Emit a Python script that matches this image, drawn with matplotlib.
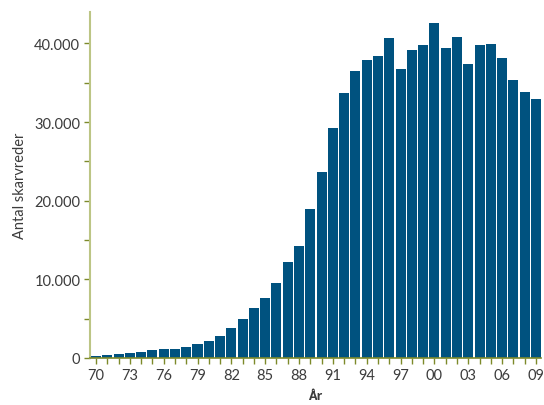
import matplotlib
matplotlib.use("Agg")
import matplotlib.pyplot as plt
from matplotlib.ticker import FuncFormatter, MultipleLocator

years = list(range(1970, 2010))
nests = [250, 380, 510, 640, 760, 1020, 1140, 1140, 1400, 1780,
         2160, 2800, 3810, 4960, 6360, 7630, 9530, 12200, 14240, 18940,
         23640, 29230, 33680, 36480, 37880, 38380, 40670, 36730, 39150, 39780,
         42580, 39400, 40800, 37370, 39780, 39910, 38130, 35330, 33810, 32920]
tick_years = years[::3]

bar_color = "#00527f"
spine_y = "#bcc585"
spine_x = "#7d8a2a"
text_color = "#3c3c3c"

plt.rcParams['font.family'] = ['Lato', 'DejaVu Sans']

fig = plt.figure(figsize=(5.44, 4.06), dpi=100)
ax = fig.add_axes([90 / 544, 47 / 406, 451 / 544, 346 / 406])

pos = list(range(len(years)))
ax.bar(pos, nests, width=0.89, color=bar_color, zorder=2)

ax.set_xlim(-0.53, 39.45)
ax.set_ylim(0, 44000)

ax.set_xticks([years.index(y) for y in tick_years])
ax.set_xticklabels([str(y)[2:] for y in tick_years])
ax.xaxis.set_minor_locator(MultipleLocator(1))
ax.yaxis.set_major_locator(MultipleLocator(10000))
ax.yaxis.set_minor_locator(MultipleLocator(5000))
ax.yaxis.set_major_formatter(FuncFormatter(lambda v, p: f"{int(v):,}".replace(",", ".")))

for s in ["top", "right"]:
    ax.spines[s].set_visible(False)
ax.spines["left"].set_color(spine_y)
ax.spines["left"].set_linewidth(1.5)
ax.spines["bottom"].set_color(spine_x)
ax.spines["bottom"].set_linewidth(1.2)
ax.spines["bottom"].set_zorder(3)

ax.tick_params(axis="x", which="both", direction="out", length=4, width=1,
               color=spine_x, labelcolor=text_color, labelsize=10.5, pad=3)
ax.tick_params(axis="y", which="both", direction="out", length=4, width=1,
               color=spine_x, labelcolor=text_color, labelsize=10.5, pad=3)

ax.set_ylabel("Antal skarvreder", color=text_color, fontsize=10.5, labelpad=5)
ax.set_xlabel("År", color=text_color, fontsize=9, fontweight="bold", labelpad=5,
              family=["Open Sans", "DejaVu Sans"])

fig.savefig("out.png", dpi=100)
